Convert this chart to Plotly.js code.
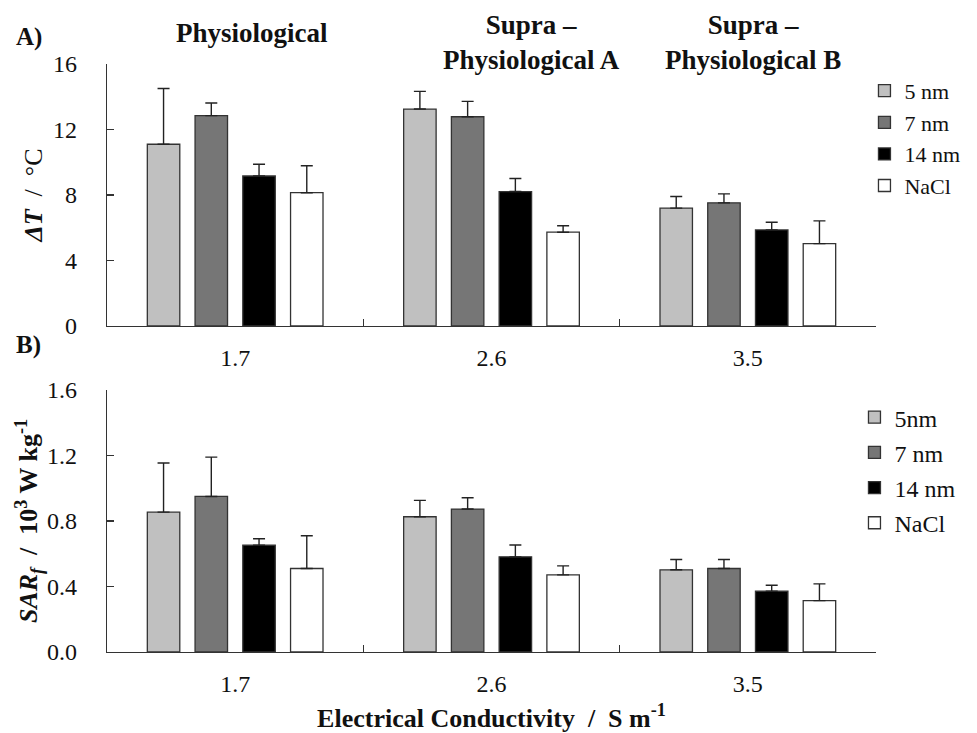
<!DOCTYPE html>
<html>
<head>
<meta charset="utf-8">
<script src="https://cdn.plot.ly/plotly-3.0.1.min.js"></script>
<style>html,body{margin:0;padding:0;background:#fff;}#chart{width:977px;height:733px;}</style>
</head>
<body>
<div id="chart"></div>
<script>
// Categories: electrical conductivity (S m^-1)
const conductivity = ["1.7", "2.6", "3.5"];
const groupTitles = ["<b>Physiological</b>", "<b>Supra –<br>Physiological A</b>", "<b>Supra –<br>Physiological B</b>"];

// Panel A: temperature rise ΔT (°C) and upper error
const dT_5nm   = [11.1, 13.25, 7.20];
const dT_7nm   = [12.85, 12.78, 7.52];
const dT_14nm  = [9.16, 8.21, 5.87];
const dT_NaCl  = [8.14, 5.73, 5.03];
const dTerr_5nm  = [3.4, 1.08, 0.71];
const dTerr_7nm  = [0.77, 0.94, 0.55];
const dTerr_14nm = [0.72, 0.80, 0.47];
const dTerr_NaCl = [1.65, 0.39, 1.39];

// Panel B: SAR_f (10^3 W kg^-1) and upper error
const sar_5nm   = [0.854, 0.826, 0.502];
const sar_7nm   = [0.950, 0.873, 0.510];
const sar_14nm  = [0.652, 0.581, 0.371];
const sar_NaCl  = [0.510, 0.471, 0.314];
const sarErr_5nm  = [0.30, 0.10, 0.063];
const sarErr_7nm  = [0.24, 0.069, 0.055];
const sarErr_14nm = [0.04, 0.072, 0.037];
const sarErr_NaCl = [0.20, 0.055, 0.102];

const namesA = ["5 nm", "7 nm", "14 nm", "NaCl"];
const namesB = ["5nm", "7 nm", "14 nm", "NaCl"];
const colors = ["#c0c0c0", "#767676", "#000000", "#ffffff"];

const FONT = "Liberation Serif";
const TXT = "#111111";

function bar(name, y, err, color, xa, ya, legend, group) {
  return {
    type: "bar", name: name, x: conductivity, y: y,
    xaxis: xa, yaxis: ya, legend: legend, legendgroup: group,
    marker: {color: color, line: {color: "#333333", width: 1.3}},
    error_y: {type: "data", symmetric: false, array: err, arrayminus: err.map(() => 0),
              color: "#222", thickness: 1.4, width: 6},
    hoverinfo: "x+y"
  };
}

const traces = [
  bar(namesA[0], dT_5nm,  dTerr_5nm,  colors[0], "x", "y", "legend", "a0"),
  bar(namesA[1], dT_7nm,  dTerr_7nm,  colors[1], "x", "y", "legend", "a1"),
  bar(namesA[2], dT_14nm, dTerr_14nm, colors[2], "x", "y", "legend", "a2"),
  bar(namesA[3], dT_NaCl, dTerr_NaCl, colors[3], "x", "y", "legend", "a3"),
  bar(namesB[0], sar_5nm,  sarErr_5nm,  colors[0], "x2", "y2", "legend2", "b0"),
  bar(namesB[1], sar_7nm,  sarErr_7nm,  colors[1], "x2", "y2", "legend2", "b1"),
  bar(namesB[2], sar_14nm, sarErr_14nm, colors[2], "x2", "y2", "legend2", "b2"),
  bar(namesB[3], sar_NaCl, sarErr_NaCl, colors[3], "x2", "y2", "legend2", "b3")
];

const tickFont = {family: FONT, size: 24, color: TXT};
const titleFont = {family: FONT, size: 26, color: TXT};
const headFont = {family: FONT, size: 27, color: TXT};

const xCommon = {
  type: "category", range: [-0.5, 2.5], showline: true, linecolor: "#333", linewidth: 1.3,
  ticks: "inside", tickson: "boundaries", ticklen: 7, tickcolor: "#333", tickwidth: 1.3,
  showgrid: false, zeroline: false, tickfont: tickFont,
  ticklabelstandoff: 10, fixedrange: true
};
const yCommon = {
  showline: true, linecolor: "#333", linewidth: 1.3, ticks: "inside", ticklen: 7,
  tickcolor: "#333", tickwidth: 1.3, showgrid: false, zeroline: false,
  tickfont: tickFont, ticklabelstandoff: 24, fixedrange: true
};

const legendCommon = {
  bgcolor: "rgba(0,0,0,0)", xanchor: "left", yanchor: "top",
  traceorder: "grouped", itemwidth: 30
};

const annotations = [
  {text: "<b>A)</b>", xref: "paper", yref: "paper", x: -0.121, y: 1.046, xanchor: "left", yanchor: "middle", showarrow: false, font: {family: FONT, size: 25, color: TXT}},
  {text: "<b>B)</b>", xref: "paper", yref: "paper", x: -0.121, y: 0.522, xanchor: "left", yanchor: "middle", showarrow: false, font: {family: FONT, size: 25, color: TXT}}
];
const titleX = [0.189, 0.552, 0.8406];
const titleY = [1.053, 1.036, 1.036];
groupTitles.forEach((t, i) => {
  annotations.push({text: t, xref: "paper", yref: "paper", x: titleX[i], y: titleY[i],
    xanchor: "center", yanchor: "middle", showarrow: false, font: headFont});
});

const layout = {
  width: 977, height: 733,
  margin: {l: 107, r: 86, t: 64, b: 81},
  paper_bgcolor: "#fff", plot_bgcolor: "#fff",
  font: {family: FONT, size: 24, color: TXT},
  barmode: "group", bargap: 0.255, bargroupgap: 0.32,
  xaxis: Object.assign({}, xCommon, {anchor: "y", domain: [0, 1]}),
  xaxis2: Object.assign({}, xCommon, {anchor: "y2", domain: [0, 1],
    title: {text: "<b>Electrical Conductivity  /  S m<sup>-1</sup></b>", font: titleFont, standoff: 15}}),
  yaxis: Object.assign({}, yCommon, {anchor: "x", domain: [0.5544, 1], range: [0, 16], tickvals: [0, 4, 8, 12, 16],
    title: {text: "<b><i>ΔT</i></b>  /  °C", font: titleFont, standoff: 2}}),
  yaxis2: Object.assign({}, yCommon, {anchor: "x2", domain: [0, 0.4456], range: [0, 1.6], tickvals: [0, 0.4, 0.8, 1.2, 1.6],
    ticktext: ["0.0", "0.4", "0.8", "1.2", "1.6"],
    title: {text: "<b><i>SAR<sub>f</sub></i>  /  10<sup>3</sup> W kg<sup>-1</sup></b>", font: titleFont, standoff: 0}}),
  legend: Object.assign({}, legendCommon, {x: 0.985, y: 0.99, tracegroupgap: 0, font: {family: FONT, size: 22, color: TXT}}),
  legend2: Object.assign({}, legendCommon, {x: 0.972, y: 0.437, tracegroupgap: 1, font: {family: FONT, size: 24, color: TXT}}),
  showlegend: true,
  annotations: annotations
};

Plotly.newPlot("chart", traces, layout, {displayModeBar: false, staticPlot: true});
</script>
</body>
</html>
